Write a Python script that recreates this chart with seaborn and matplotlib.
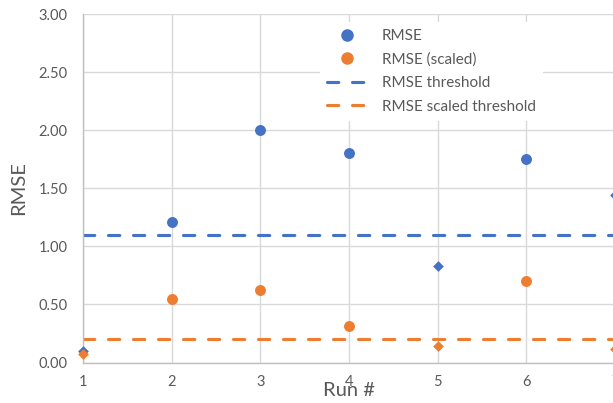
import matplotlib
matplotlib.use("Agg")
import matplotlib.pyplot as plt
from matplotlib.lines import Line2D
import seaborn as sns
import pandas as pd

# Run results
runs = [1, 2, 3, 4, 5, 6, 7]
rmse = [0.10, 1.21, 2.00, 1.80, 0.83, 1.75, 1.44]
rmse_scaled = [0.07, 0.55, 0.62, 0.31, 0.14, 0.70, 0.12]
marker_kind = ["diamond", "circle", "circle", "circle", "diamond", "circle", "diamond"]
rmse_threshold = 1.10
scaled_threshold = 0.20
y_ticks = [0.0, 0.5, 1.0, 1.5, 2.0, 2.5, 3.0]
y_tick_labels = ["0.00", "0.50", "1.00", "1.50", "2.00", "2.50", "3.00"]

BLUE = "#4472C4"
ORANGE = "#ED7D31"
GRID = "#D9D9D9"
TEXT = "#595959"
DASH = dict(lw=2.25, dashes=(3.6, 4.4), dash_capstyle="round")

sns.set_theme(style="white")
plt.rcParams["font.family"] = ["Lato", "DejaVu Sans"]

df = pd.DataFrame({"run": runs, "rmse": rmse, "scaled": rmse_scaled, "kind": marker_kind})

fig = plt.figure(figsize=(6.13, 4.03), dpi=100)
ax = fig.add_axes([83 / 613, (403 - 362.5) / 403, (615 - 83) / 613, (362.5 - 14) / 403])

ax.set_xlim(1, 7)
ax.set_ylim(0, 3)
ax.set_xticks(runs)
ax.set_yticks(y_ticks)
ax.set_yticklabels(y_tick_labels)
ax.grid(True, color=GRID, linewidth=1.0)
ax.set_axisbelow(True)

ax.axhline(rmse_threshold, color=BLUE, zorder=2, **DASH)
ax.axhline(scaled_threshold, color=ORANGE, zorder=2, **DASH)

marker_map = {"circle": "o", "diamond": "D"}
size_map = {"circle": 62, "diamond": 30}
for kind in ["circle", "diamond"]:
    sub = df[df["kind"] == kind]
    for col, color in [("rmse", BLUE), ("scaled", ORANGE)]:
        sns.scatterplot(data=sub, x="run", y=col, ax=ax, color=color,
                        marker=marker_map[kind], s=size_map[kind],
                        linewidth=0, clip_on=False, zorder=3, legend=False)

for side in ["top", "right"]:
    ax.spines[side].set_visible(False)
for side in ["left", "bottom"]:
    ax.spines[side].set_color("#BFBFBF")
    ax.spines[side].set_linewidth(1.0)

ax.tick_params(axis="y", colors=TEXT, labelsize=10.5, length=0, pad=11)
ax.tick_params(axis="x", colors=TEXT, labelsize=10.5, length=0, pad=9)
ax.set_xlabel("Run #", color=TEXT, fontsize=14.5, labelpad=-5)
ax.set_ylabel("RMSE", color=TEXT, fontsize=14.5, labelpad=8)

handles = [
    Line2D([], [], ls="none", marker="o", color=BLUE, markersize=8),
    Line2D([], [], ls="none", marker="o", color=ORANGE, markersize=8),
    Line2D([], [], color=BLUE, **DASH),
    Line2D([], [], color=ORANGE, **DASH),
]
labels = ["RMSE", "RMSE (scaled)", "RMSE threshold", "RMSE scaled threshold"]
leg = fig.legend(handles, labels, loc="upper left", bbox_to_anchor=(320 / 613, 1 - 22 / 403),
                 frameon=True, facecolor="white", edgecolor="none", framealpha=1,
                 fontsize=11, labelcolor=TEXT, handlelength=2.6, handletextpad=1.0,
                 labelspacing=0.62, borderpad=0.45, borderaxespad=0)
leg.get_frame().set_boxstyle("square", pad=0)

fig.savefig("out.png", dpi=100)
